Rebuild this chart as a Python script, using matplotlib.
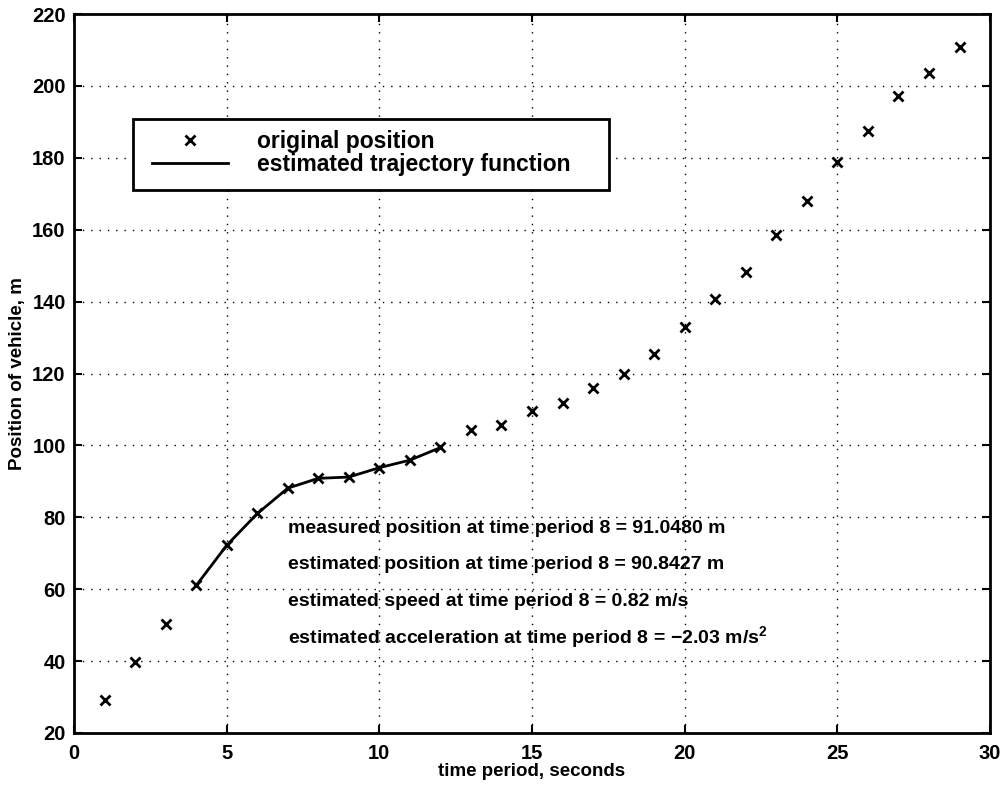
import matplotlib
matplotlib.use("Agg")
import matplotlib.pyplot as plt
from matplotlib.patches import Rectangle

# Data
t_measured = list(range(1, 30))
pos_measured = [29.2, 39.8, 50.2, 61.2, 72.3, 81.1, 88.2, 91.05, 91.1, 93.8,
                95.9, 99.5, 104.3, 105.7, 109.6, 111.9, 115.9, 119.8, 125.4,
                133.0, 140.7, 148.1, 158.4, 168.0, 178.7, 187.5, 197.3, 203.7, 210.9]
t_est = [4, 5, 6, 7, 8, 9, 10, 11, 12]
pos_est = [61.0, 72.2, 81.0, 88.1, 90.84, 91.2, 93.8, 95.9, 99.4]

legend_labels = ["original position", "estimated trajectory function"]
annotations = [
    "measured position at time period 8 = 91.0480 m",
    "estimated position at time period 8 = 90.8427 m",
    "estimated speed at time period 8 = 0.82 m/s",
    r"estimated acceleration at time period 8 = $\mathbf{-}$2.03 m/s$^{\mathbf{2}}$",
]
annot_y = [77.0, 67.0, 56.7, 46.4]
annot_x = 7.0

plt.rcParams['font.family'] = ['Liberation Sans', 'DejaVu Sans']
plt.rcParams['mathtext.fontset'] = 'custom'
plt.rcParams['mathtext.rm'] = 'Liberation Sans'
plt.rcParams['mathtext.bf'] = 'Liberation Sans:bold'

fig = plt.figure(figsize=(10.04, 7.88), dpi=100)
ax = fig.add_axes([0.0737, 0.0698, 0.9124, 0.9124])

ax.plot(t_measured, pos_measured, linestyle='none', marker='x', color='black',
        markersize=7, markeredgewidth=2, label=legend_labels[0])
ax.plot(t_est, pos_est, color='black', linewidth=2, label=legend_labels[1])

ax.set_xlim(0, 30)
ax.set_ylim(20, 220)
ax.set_xticks(range(0, 31, 5))
ax.set_yticks(range(20, 221, 20))
ax.grid(True, color='black', linestyle=(0, (1, 5)), linewidth=1)
ax.tick_params(direction='in', top=True, right=True, length=6, width=1.5,
               labelsize=14.5)
ax.tick_params(axis='y', pad=6)
ax.tick_params(axis='x', pad=8)
for lab in ax.get_xticklabels() + ax.get_yticklabels():
    lab.set_fontweight('bold')
for s in ax.spines.values():
    s.set_linewidth(2)

ax.set_xlabel("time period, seconds", fontsize=13.5, fontweight='bold', labelpad=0)
ax.set_ylabel("Position of vehicle, m", fontsize=13.5, fontweight='bold', labelpad=4)

for txt, yy in zip(annotations, annot_y):
    ax.text(annot_x, yy, txt, fontsize=14, fontweight='bold', va='center', ha='left')

leg = ax.legend(loc='upper left', bbox_to_anchor=(0.0852, 0.839),
                prop={'size': 16.5, 'weight': 'bold'}, frameon=False,
                handlelength=3.3, handletextpad=1.3, borderpad=0,
                labelspacing=0.0, borderaxespad=0)
ax.add_patch(Rectangle((0.0644, 0.7552), 0.5197, 0.0987, transform=ax.transAxes,
                       facecolor='white', edgecolor='black', linewidth=2, zorder=4.5))
leg.set_zorder(5)

fig.savefig("out.png", dpi=100)
